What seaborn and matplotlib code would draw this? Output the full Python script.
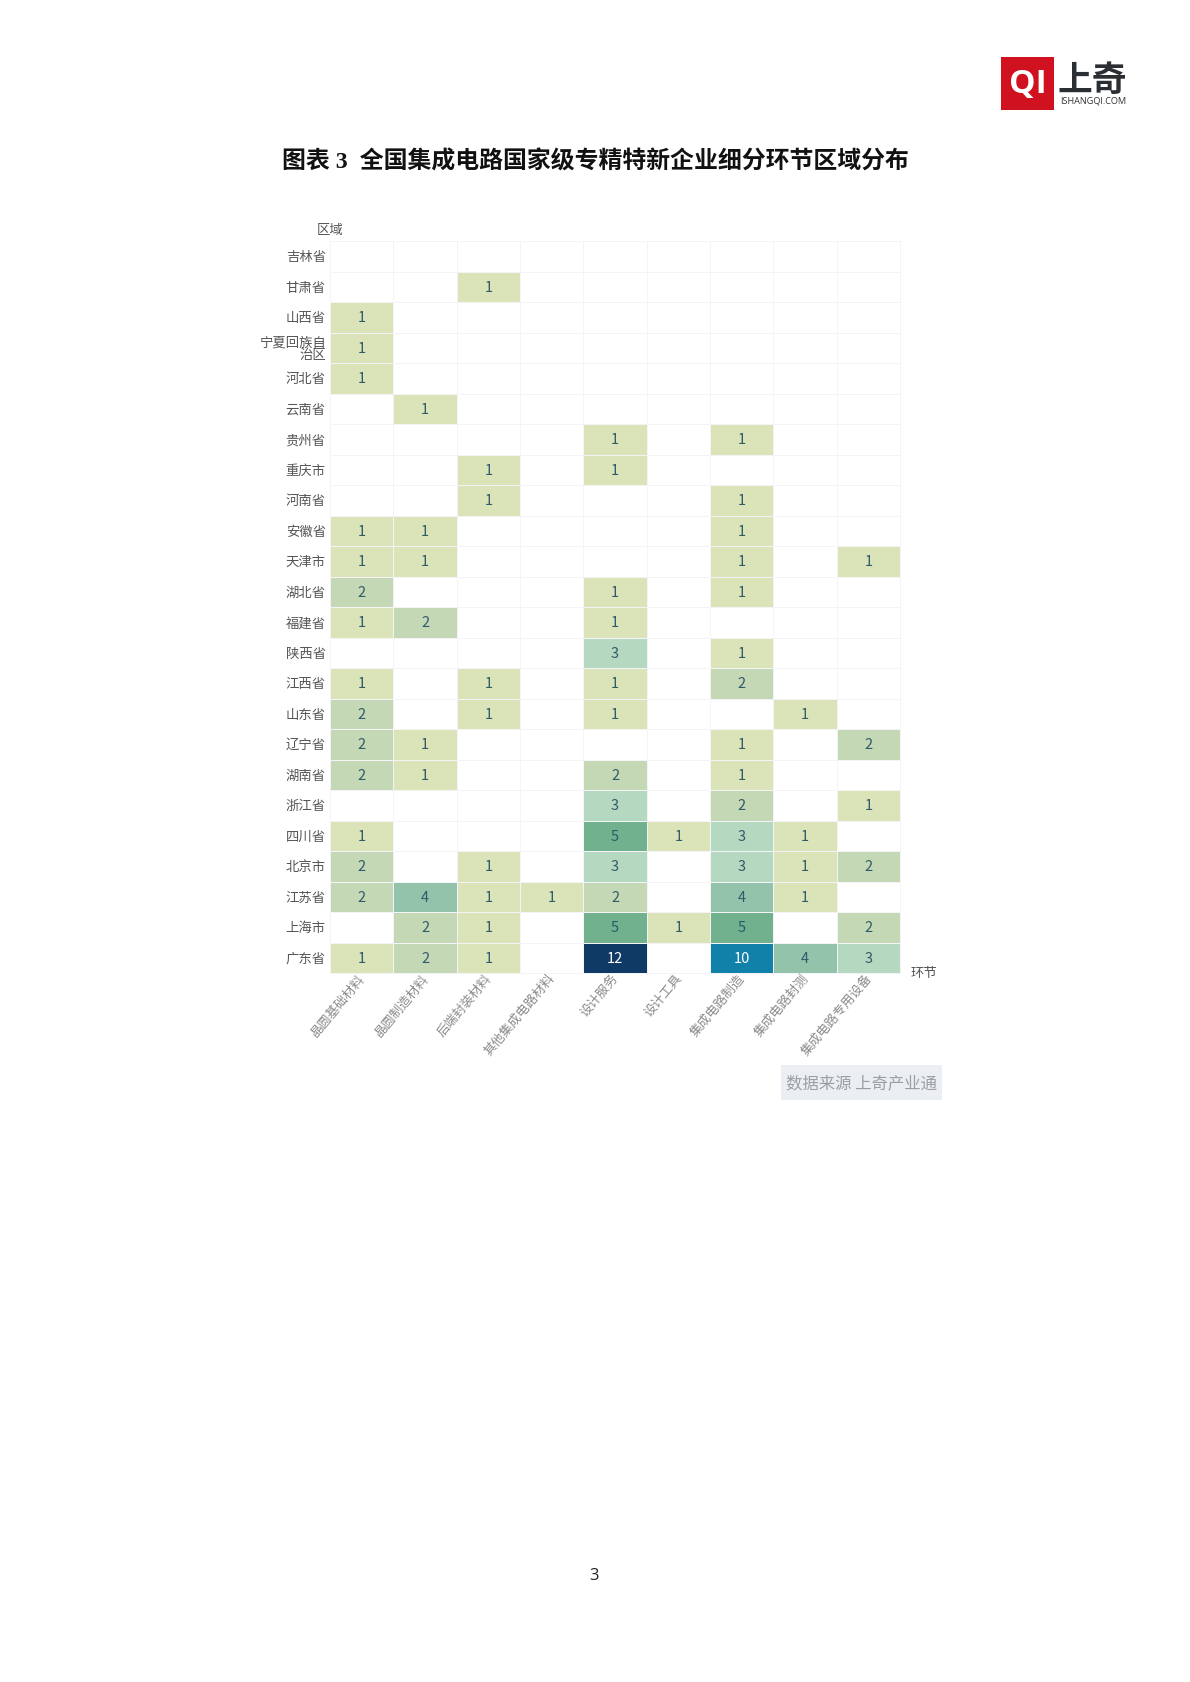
import numpy as np
import pandas as pd
import matplotlib
matplotlib.use("Agg")
import matplotlib.pyplot as plt
import seaborn as sns
from matplotlib.colors import LinearSegmentedColormap
from matplotlib.patches import Rectangle
from matplotlib.transforms import ScaledTranslation

regions = ["吉林省", "甘肃省", "山西省", "宁夏回族自\n治区", "河北省", "云南省", "贵州省", "重庆市",
           "河南省", "安徽省", "天津市", "湖北省", "福建省", "陕西省", "江西省", "山东省",
           "辽宁省", "湖南省", "浙江省", "四川省", "北京市", "江苏省", "上海市", "广东省"]
stages = ["晶圆基础材料", "晶圆制造材料", "后端封装材料", "其他集成电路材料", "设计服务",
          "设计工具", "集成电路制造", "集成电路封测", "集成电路专用设备"]

# one list per stage, top row first
wafer_base = [0, 0, 1, 1, 1, 0, 0, 0, 0, 1, 1, 2, 1, 0, 1, 2, 2, 2, 0, 1, 2, 2, 0, 1]
wafer_make = [0, 0, 0, 0, 0, 1, 0, 0, 0, 1, 1, 0, 2, 0, 0, 0, 1, 1, 0, 0, 0, 4, 2, 2]
packaging = [0, 1, 0, 0, 0, 0, 0, 1, 1, 0, 0, 0, 0, 0, 1, 1, 0, 0, 0, 0, 1, 1, 1, 1]
other_mat = [0, 0, 0, 0, 0, 0, 0, 0, 0, 0, 0, 0, 0, 0, 0, 0, 0, 0, 0, 0, 0, 1, 0, 0]
design_svc = [0, 0, 0, 0, 0, 0, 1, 1, 0, 0, 0, 1, 1, 3, 1, 1, 0, 2, 3, 5, 3, 2, 5, 12]
design_tool = [0, 0, 0, 0, 0, 0, 0, 0, 0, 0, 0, 0, 0, 0, 0, 0, 0, 0, 0, 1, 0, 0, 1, 0]
ic_make = [0, 0, 0, 0, 0, 0, 1, 0, 1, 1, 1, 1, 0, 1, 2, 0, 1, 1, 2, 3, 3, 4, 5, 10]
ic_test = [0, 0, 0, 0, 0, 0, 0, 0, 0, 0, 0, 0, 0, 0, 0, 1, 0, 0, 0, 1, 1, 1, 0, 4]
ic_equip = [0, 0, 0, 0, 0, 0, 0, 0, 0, 0, 1, 0, 0, 0, 0, 0, 2, 0, 1, 0, 2, 0, 2, 3]

color_levels = [0, 1, 2, 3, 4, 5, 10, 12]
color_values = ["#ffffff", "#dbe3b8", "#c3d8b5", "#b5d8c0", "#93c3ab", "#72b18e", "#1282aa", "#103a66"]

plt.rcParams["font.family"] = ["Noto Sans CJK SC", "DejaVu Sans"]

df = pd.DataFrame(
    np.array([wafer_base, wafer_make, packaging, other_mat, design_svc,
              design_tool, ic_make, ic_test, ic_equip]).T,
    index=regions, columns=stages)
labels = df.astype(str).where(df > 0, "")

cmap = LinearSegmentedColormap.from_list(
    "region_cmap", [(v / 12, c) for v, c in zip(color_levels, color_values)])

W, H = 1190, 1683
fig = plt.figure(figsize=(W / 100, H / 100), dpi=100, facecolor="white")

# heatmap box in page pixels
left, top, right, bottom = 330, 242, 900, 974
ax = fig.add_axes([left / W, 1 - bottom / H, (right - left) / W, (bottom - top) / H])
sns.heatmap(df, ax=ax, cmap=cmap, vmin=0, vmax=12, cbar=False, annot=labels, fmt="",
            linewidths=0.7, linecolor="#f3f3f8", clip_on=False,
            annot_kws={"fontsize": 10.5, "color": "#2f5a68"})
for t in ax.texts:
    if t.get_text() in ("10", "12"):
        t.set_color("white")

ax.set_xlabel("")
ax.set_ylabel("")
ax.tick_params(length=0)
ax.tick_params(axis="y", pad=3, labelsize=9.6, labelcolor="#555555")
ax.tick_params(axis="x", pad=0, labelsize=9.2, labelcolor="#8a8a8a")
plt.setp(ax.get_yticklabels(), rotation=0, ha="right", multialignment="right", linespacing=0.85)
plt.setp(ax.get_xticklabels(), rotation=50, ha="right", va="top", rotation_mode="anchor")
shift = ScaledTranslation(-4 / 100, 2 / 100, fig.dpi_scale_trans)
for lab in ax.get_xticklabels():
    lab.set_transform(lab.get_transform() + shift)

# page furniture, in page pixels
page = fig.add_axes([0, 0, 1, 1], zorder=-1)
page.set_xlim(0, W)
page.set_ylim(H, 0)
page.axis("off")

page.text(595, 162, "图表 3  全国集成电路国家级专精特新企业细分环节区域分布", ha="center", va="center",
          fontsize=17.2, fontweight="bold", color="#111111",
          family=["Liberation Serif", "Noto Sans CJK SC"])
page.text(330, 230, "区域", ha="center", va="center", fontsize=9.6, color="#555555")
page.text(924, 973, "环节", ha="center", va="center", fontsize=9.6, color="#555555")

page.add_patch(Rectangle((781, 1066), 161, 35, facecolor="#ebeef2", edgecolor="none"))
page.text(861, 1084, "数据来源 上奇产业通", ha="center", va="center", fontsize=11.8, color="#9aa0a0")
page.text(594, 1576, "3", ha="center", va="center", fontsize=12, color="#222222",
          family=["Open Sans", "DejaVu Sans"])

page.add_patch(Rectangle((1001, 58), 53, 53, facecolor="#cf1120", edgecolor="none"))
page.text(1027.5, 85, "QI", ha="center", va="center", fontsize=24, fontweight="bold", color="white",
          family=["Open Sans", "DejaVu Sans"])
page.text(1092, 81, "上奇", ha="center", va="center", fontsize=25, fontweight="bold", color="#2b2f33")
page.text(1093, 101, "ISHANGQI.COM", ha="center", va="center", fontsize=6.6, color="#333333",
          family=["Open Sans", "DejaVu Sans"])

fig.savefig("out.png", dpi=100)
